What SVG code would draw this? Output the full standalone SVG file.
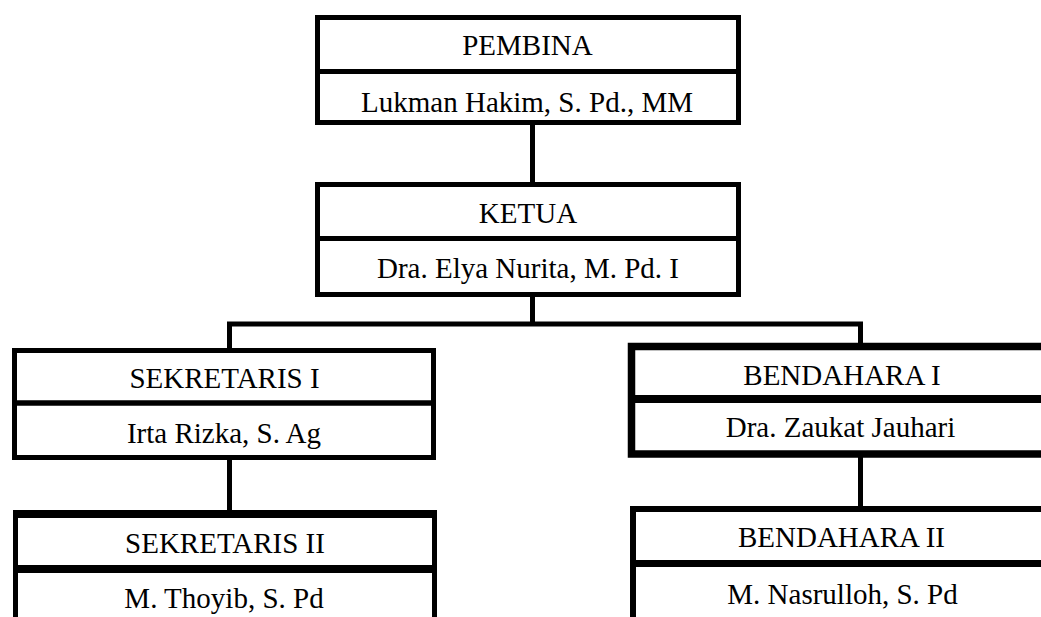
<svg xmlns="http://www.w3.org/2000/svg" width="1041" height="617" viewBox="0 0 1041 617">
<style>
.b{fill:none;stroke:#000;}
.t{font-family:"Liberation Serif","Times New Roman",serif;font-size:29px;fill:#000;text-anchor:middle;}
.c{stroke:#000;stroke-width:5;fill:none;}
</style>
<rect width="1041" height="617" fill="#fff"/>
<g id="connectors">
<line class="c" x1="532.5" y1="124" x2="532.5" y2="183"/>
<line class="c" x1="532.5" y1="296" x2="532.5" y2="324"/>
<polyline class="c" stroke-width="4.5" points="229.5,349 229.5,324 860.5,324 860.5,344"/>
<line class="c" x1="229.5" y1="459" x2="229.5" y2="511"/>
<line class="c" x1="860.5" y1="457" x2="860.5" y2="507"/>
</g>
<g id="pembina">
<rect class="b" stroke-width="5" x="317.5" y="17.5" width="421" height="105"/>
<line class="b" stroke-width="5" x1="315" y1="71.5" x2="741" y2="71.5"/>
<text class="t" x="527.5" y="55">PEMBINA</text>
<text class="t" x="527" y="112">Lukman Hakim, S. Pd., MM</text>
</g>
<g id="ketua">
<rect class="b" stroke-width="5" x="317.5" y="184.5" width="421" height="110"/>
<line class="b" stroke-width="5" x1="315" y1="238.5" x2="741" y2="238.5"/>
<text class="t" x="528" y="223">KETUA</text>
<text class="t" x="528" y="278">Dra. Elya Nurita, M. Pd. I</text>
</g>
<g id="sekretaris1">
<rect class="b" stroke-width="5" x="14.5" y="350.5" width="419" height="107"/>
<line class="b" stroke-width="5.5" x1="12" y1="403" x2="436" y2="403"/>
<text class="t" x="224.5" y="388">SEKRETARIS I</text>
<text class="t" x="224" y="443">Irta Rizka, S. Ag</text>
</g>
<g id="sekretaris2">
<line class="b" stroke-width="8" x1="13" y1="514" x2="437" y2="514"/>
<line class="b" stroke-width="8" x1="13" y1="569" x2="437" y2="569"/>
<line class="b" stroke-width="5" x1="15.5" y1="510" x2="15.5" y2="617"/>
<line class="b" stroke-width="5" x1="434.5" y1="510" x2="434.5" y2="617"/>
<text class="t" x="225" y="553">SEKRETARIS II</text>
<text class="t" x="224" y="608">M. Thoyib, S. Pd</text>
</g>
<g id="bendahara1">
<polyline class="b" stroke-width="7.5" points="1045,346.5 631.5,346.5 631.5,454 1045,454"/>
<line class="b" stroke-width="8" x1="628" y1="399" x2="1045" y2="399"/>
<text class="t" x="842" y="385">BENDAHARA I</text>
<text class="t" x="840.5" y="437">Dra. Zaukat Jauhari</text>
</g>
<g id="bendahara2">
<polyline class="b" stroke-width="6" points="633,620 633,509 1045,509"/>
<line class="b" stroke-width="7" x1="630" y1="563.5" x2="1045" y2="563.5"/>
<text class="t" x="841.5" y="547">BENDAHARA II</text>
<text class="t" x="842.5" y="604">M. Nasrulloh, S. Pd</text>
</g>
</svg>
